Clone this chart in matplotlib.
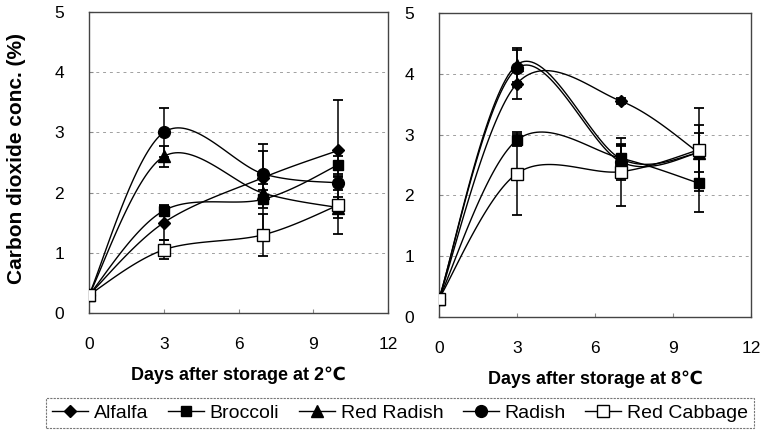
import numpy as np
import matplotlib
matplotlib.use('Agg')
import matplotlib.pyplot as plt
from matplotlib.lines import Line2D

plt.rcParams['font.family'] = ['Liberation Sans', 'DejaVu Sans']

# ---------------- data ----------------
days = [0, 3, 7, 10]
series_names = ['Alfalfa', 'Broccoli', 'Red Radish', 'Radish', 'Red Cabbage']
x_ticks = [0, 3, 6, 9, 12]
y_ticks = [0, 1, 2, 3, 4, 5]

# storage at 2 C
alfalfa_2c = [0.30, 1.50, 2.25, 2.70]
broccoli_2c = [0.30, 1.70, 1.89, 2.46]
red_radish_2c = [0.30, 2.60, 1.99, 1.75]
radish_2c = [0.30, 3.00, 2.31, 2.16]
red_cabbage_2c = [0.30, 1.05, 1.30, 1.79]

alfalfa_2c_err = [0, 0.29, 0.10, 0.84]
broccoli_2c_err = [0, 0.08, 0.15, 0.15]
red_radish_2c_err = [0, 0.17, 0.70, 0.18]
radish_2c_err = [0, 0.41, 0.49, 0.12]
red_cabbage_2c_err = [0, 0.16, 0.35, 0.47]

# storage at 8 C
alfalfa_8c = [0.30, 3.84, 3.55, 2.70]
broccoli_8c = [0.30, 2.91, 2.61, 2.20]
red_radish_8c = [0.30, 4.15, 2.60, 2.70]
radish_8c = [0.30, 4.09, 2.55, 2.70]
red_cabbage_8c = [0.30, 2.36, 2.39, 2.75]

alfalfa_8c_err = [0, 0.25, 0.05, 0.45]
broccoli_8c_err = [0, 0.10, 0.22, 0.47]
red_radish_8c_err = [0, 0.28, 0.22, 0.10]
radish_8c_err = [0, 0.30, 0.30, 0.32]
red_cabbage_8c_err = [0, 0.68, 0.56, 0.68]

panel_2c = [(alfalfa_2c, alfalfa_2c_err), (broccoli_2c, broccoli_2c_err),
            (red_radish_2c, red_radish_2c_err), (radish_2c, radish_2c_err),
            (red_cabbage_2c, red_cabbage_2c_err)]
panel_8c = [(alfalfa_8c, alfalfa_8c_err), (broccoli_8c, broccoli_8c_err),
            (red_radish_8c, red_radish_8c_err), (radish_8c, radish_8c_err),
            (red_cabbage_8c, red_cabbage_8c_err)]

# ---------------- styles ----------------
styles = [
    dict(marker='D', ms=6.0, mfc='black', mec='black'),
    dict(marker='s', ms=7.5, mfc='black', mec='black'),
    dict(marker='^', ms=8.5, mfc='black', mec='black'),
    dict(marker='o', ms=8.5, mfc='black', mec='black'),
    dict(marker='s', ms=8.5, mfc='white', mec='black'),
]


def smooth(x, y, sx, sy, n=40):
    """Excel-like smoothed line (cubic Bezier with Catmull-Rom control points)."""
    P = np.column_stack([np.asarray(x, float) * sx, np.asarray(y, float) * sy])
    m = len(P)
    parts = []
    t = np.linspace(0, 1, n)[:, None]
    for i in range(m - 1):
        p0 = P[i - 1] if i > 0 else P[i]
        p1, p2 = P[i], P[i + 1]
        p3 = P[i + 2] if i + 2 < m else P[i + 1]
        c1 = p1 + (p2 - p0) / 6.0
        c2 = p2 - (p3 - p1) / 6.0
        b = (1 - t) ** 3 * p1 + 3 * (1 - t) ** 2 * t * c1 + 3 * (1 - t) * t ** 2 * c2 + t ** 3 * p2
        parts.append(b if i == 0 else b[1:])
    B = np.vstack(parts)
    return B[:, 0] / sx, B[:, 1] / sy


W, H = 762, 430
fig = plt.figure(figsize=(W / 100, H / 100), dpi=100)


def make_axes(px0, px1, py_top, py_bot):
    return fig.add_axes([px0 / W, 1 - py_bot / H, (px1 - px0) / W, (py_bot - py_top) / H])


ax1 = make_axes(89, 388, 12, 313)
ax2 = make_axes(439, 751, 13, 317)

for ax, data, xlabel_txt, lab_y in [(ax1, panel_2c, 'Days after storage at 2℃', 380),
                                     (ax2, panel_8c, 'Days after storage at 8℃', 384)]:
    bbox = ax.get_position()
    sx = bbox.width * W / 12.0
    sy = bbox.height * H / 5.0
    for (vals, errs), st in zip(data, styles):
        ax.errorbar(days, vals, yerr=errs, fmt='none', ecolor='black',
                    elinewidth=1.1, capsize=3.5, capthick=1.3, zorder=3)
        xs, ys = smooth(days, vals, sx, sy)
        ax.plot(xs, ys, color='black', lw=1.0, zorder=4)
        ax.plot(days, vals, ls='none', zorder=5, mew=1.0, **st)
    ax.set_xlim(0, 12)
    ax.set_ylim(0, 5)
    ax.set_xticks(x_ticks)
    ax.set_yticks(y_ticks)
    ax.tick_params(axis='x', direction='in', length=3, color='#888888', pad=17, labelsize=12.5)
    ax.tick_params(axis='y', direction='in', length=3, color='#888888', pad=18, labelsize=12.5)
    for y in y_ticks[1:-1]:
        ax.axhline(y, color='#a0a0a0', lw=0.7, ls=(0, (3, 4)), zorder=1)
    for s in ax.spines.values():
        s.set_color('#444444')
        s.set_linewidth(1.0)
    cx = (bbox.x0 + bbox.x1) / 2
    fig.text(cx, 1 - lab_y / H, xlabel_txt, ha='center', va='baseline',
             fontsize=13, fontweight='bold')

fig.text(17 / W, 1 - 159 / H, 'Carbon dioxide conc. (%)', rotation=90,
         ha='center', va='center', fontsize=15, fontweight='bold')

handles = [Line2D([0], [0], color='black', lw=1.0, **st) for st in styles]
leg = fig.legend(handles, series_names, loc='center', ncol=5,
                 bbox_to_anchor=(400 / W, 1 - 413 / H), fontsize=14,
                 frameon=True, fancybox=False, edgecolor='#555555',
                 handlelength=1.85, handletextpad=0.3, columnspacing=1.0,
                 borderpad=0.3, borderaxespad=0)
leg.get_frame().set_linewidth(0.8)
leg.get_frame().set_linestyle((0, (2, 1)))

fig.savefig('out.png', dpi=100)
